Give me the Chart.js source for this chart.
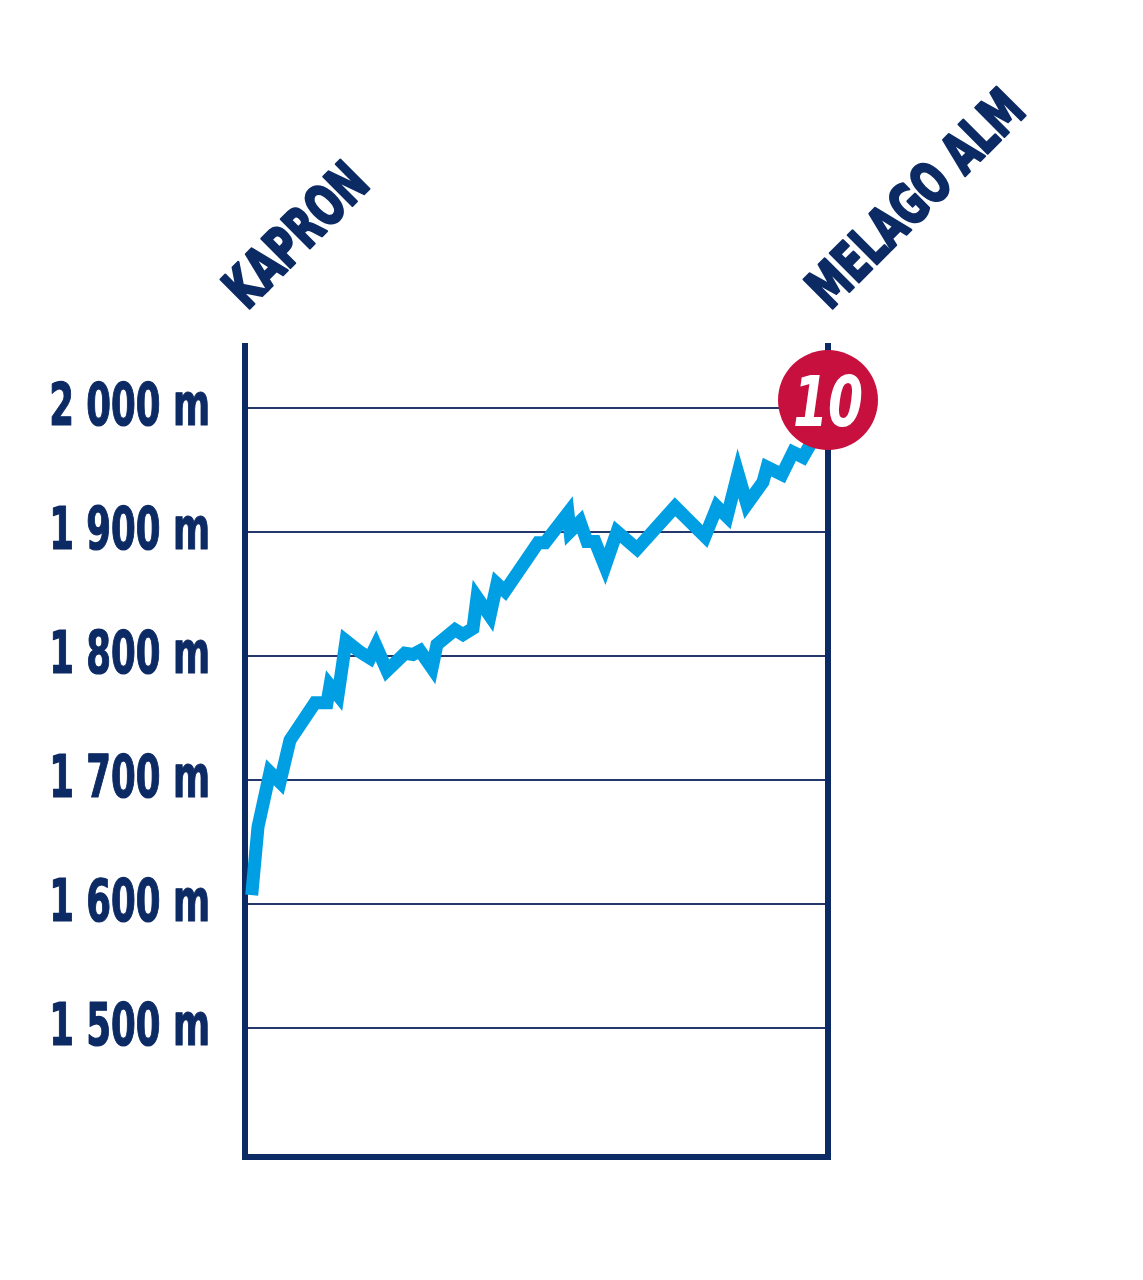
<!DOCTYPE html>
<html>
<head>
<meta charset="utf-8">
<style>
  html, body { margin: 0; padding: 0; background: #ffffff; }
  #wrap { width: 1143px; height: 1280px; position: relative; }
</style>
<script src="https://cdn.jsdelivr.net/npm/chart.js@4.4.1/dist/chart.umd.min.js"></script>
</head>
<body>
<div id="wrap"><canvas id="c" width="1143" height="1280"></canvas></div>
<script>
// ---- data ----
const startName = "KAPRON";
const endName = "MELAGO ALM";
const stageNumber = "10";
// distance along the route (% of total), elevation (m)
const distance = [1.15, 2.23, 4.29, 6.0, 7.72, 12.0, 14.07, 14.58, 15.95, 17.32, 19.73, 21.44, 22.47, 24.36, 27.44, 28.82, 30.02, 32.08, 32.93, 36.02, 37.39, 39.11, 39.8, 42.02, 43.22, 44.6, 50.26, 51.46, 55.4, 55.75, 57.46, 58.66, 60.03, 61.75, 63.81, 67.24, 73.76, 78.9, 80.96, 82.68, 84.56, 86.1, 88.85, 89.54, 92.11, 94.0, 95.71, 97.43, 100];
const elevation = [1607, 1662, 1706, 1698, 1732, 1762, 1762, 1776, 1768, 1812, 1803, 1798, 1808, 1788, 1802, 1801, 1804, 1790, 1809, 1821, 1817, 1822, 1847, 1832, 1858, 1852, 1891, 1891, 1915, 1900, 1908, 1892, 1892, 1872, 1900, 1886, 1920, 1896, 1920, 1912, 1947, 1922, 1940, 1952, 1946, 1964, 1960, 1974, 1992];
const yTickValues = [1500, 1600, 1700, 1800, 1900, 2000];
const yTickLabels = ["1 500 m", "1 600 m", "1 700 m", "1 800 m", "1 900 m", "2 000 m"];
const badgePoint = [{ x: 100, y: 2006 }];

const NAVY = "#0c2a63";
const BLUE = "#009fe3";
const RED = "#c8103e";
const FONT = "'DejaVu Sans Condensed', 'DejaVu Sans', sans-serif";

const framePlugin = {
  id: "frame",
  beforeDatasetsDraw(chart) {
    const { ctx, chartArea: a, scales } = chart;
    ctx.save();
    // y tick labels (condensed)
    ctx.fillStyle = NAVY;
    ctx.strokeStyle = NAVY;
    ctx.lineWidth = 1.2;
    ctx.lineJoin = "round";
    ctx.font = "bold 59px " + FONT;
    ctx.textAlign = "right";
    ctx.textBaseline = "alphabetic";
    yTickValues.forEach((v, i) => {
      const py = scales.y.getPixelForValue(v);
      ctx.save();
      ctx.translate(a.left - 35, py + 17);
      ctx.scale(0.67, 1);
      ctx.fillText(yTickLabels[i], 0, 0);
      ctx.strokeText(yTickLabels[i], 0, 0);
      ctx.restore();
    });
    // frame
    ctx.strokeStyle = NAVY;
    ctx.lineWidth = 6;
    ctx.lineCap = "butt";
    ctx.lineJoin = "miter";
    ctx.beginPath();
    ctx.moveTo(a.left, a.top);
    ctx.lineTo(a.left, a.bottom);
    ctx.lineTo(a.right, a.bottom);
    ctx.lineTo(a.right, a.top);
    ctx.stroke();
    ctx.restore();
  },
  afterDraw(chart) {
    const { ctx, chartArea: a, scales } = chart;
    const xs = scales.x;
    ctx.save();
    ctx.fillStyle = NAVY;
    ctx.strokeStyle = NAVY;
    ctx.lineWidth = 2.5;
    ctx.lineJoin = "round";
    ctx.font = "bold 56px " + FONT;
    ctx.textAlign = "left";
    ctx.textBaseline = "alphabetic";
    const names = [[xs.min, startName], [xs.max, endName]];
    names.forEach(([v, t]) => {
      const px = xs.getPixelForValue(v);
      ctx.save();
      ctx.translate(px + 2, a.top - 32);
      ctx.rotate(-Math.PI / 4);
      ctx.scale(0.74, 1);
      ctx.fillText(t, 0, 0);
      ctx.strokeText(t, 0, 0);
      ctx.restore();
    });
    // badge number
    const meta = chart.getDatasetMeta(1);
    const pt = meta.data[0];
    ctx.fillStyle = "#ffffff";
    ctx.font = "italic bold 70px " + FONT;
    ctx.textAlign = "center";
    ctx.textBaseline = "alphabetic";
    ctx.save();
    ctx.translate(pt.x, pt.y + 26);
    ctx.scale(0.8, 1);
    ctx.fillText(stageNumber, 0, 0);
    ctx.restore();
    ctx.restore();
  }
};

new Chart(document.getElementById("c"), {
  type: "scatter",
  data: {
    datasets: [
      {
        data: distance.map((d, i) => ({ x: d, y: elevation[i] })),
        showLine: true,
        borderColor: BLUE,
        borderWidth: 13,
        borderJoinStyle: "miter",
        borderCapStyle: "butt",
        pointRadius: 0,
        tension: 0,
        clip: false,
        order: 2
      },
      {
        data: badgePoint,
        pointRadius: 50,
        pointBackgroundColor: RED,
        pointBorderWidth: 0,
        borderWidth: 0,
        pointHoverRadius: 50,
        clip: false,
        order: 1
      }
    ]
  },
  options: {
    responsive: false,
    animation: false,
    events: [],
    layout: { padding: { left: 0, top: 343, right: 315, bottom: 123 } },
    plugins: { legend: { display: false }, tooltip: { enabled: false } },
    scales: {
      x: {
        type: "linear",
        min: 0,
        max: 100,
        display: false
      },
      y: {
        type: "linear",
        min: 1396,
        max: 2052,
        afterFit(s) { s.width = 245; },
        afterBuildTicks(s) { s.ticks = yTickValues.map(v => ({ value: v })); },
        border: { display: false },
        grid: { color: "#24386b", lineWidth: 2, drawTicks: false },
        ticks: { display: false }
      }
    }
  },
  plugins: [framePlugin]
});
</script>
</body>
</html>
